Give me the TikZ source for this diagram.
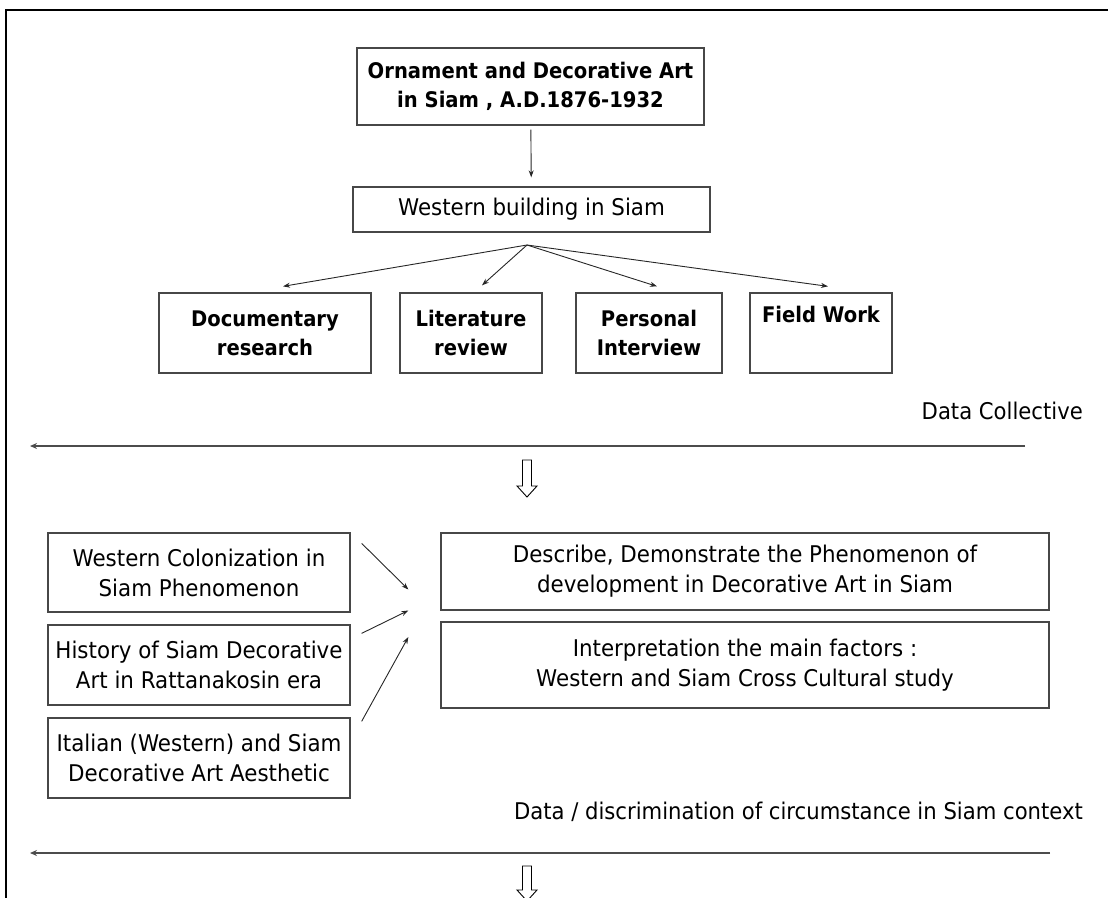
\documentclass[tikz,border=0pt]{standalone}
\usepackage{fontspec}
\setmainfont{DejaVu Sans}[FakeStretch=0.93]
\newfontfamily\headfont{DejaVu Sans}[FakeStretch=0.91]
\newfontfamily\notefont{DejaVu Sans}[FakeStretch=0.92]
\usetikzlibrary{arrows.meta,calc}

\begin{document}
\begin{tikzpicture}[x=1pt,y=-1pt,
  box/.style={draw=black!72, line width=1.3pt, fill=white, align=center,
    inner sep=0pt, font=\fontsize{23}{30}\selectfont},
  boldbox/.style={box, font=\headfont\fontsize{21.5}{29}\selectfont\bfseries},
  link/.style={draw=black!85, line width=0.9pt, -{Stealth[length=7pt,width=5pt]}},
  rule/.style={draw=black!70, line width=2.6pt, -{Stealth[length=7pt,width=6pt]}},
  hollow/.style={draw=black, line width=0.9pt, fill=white},
  note/.style={anchor=east, inner sep=0pt, font=\notefont\fontsize{23}{27}\selectfont}]

\useasboundingbox (0,0) rectangle (1108,897);
\clip (0,0) rectangle (1108,897);

% page frame
\draw[line width=2.6pt] (6,905) -- (6,10) -- (1115,10);

% ---- upper part: sources of data
\node[boldbox, minimum width=347pt, minimum height=77pt] (title) at (530.5,86.5)
  {Ornament and Decorative Art\\in Siam , A.D.1876-1932};
\node[box, minimum width=357pt, minimum height=45pt] (wb) at (531.5,209.5)
  {Western building in Siam};

\node[boldbox, minimum width=212pt, minimum height=80pt] (doc) at (265,333)
  {Documentary\\research};
\node[boldbox, minimum width=142pt, minimum height=80pt] (lit) at (471,333)
  {Literature\\review};
\node[boldbox, minimum width=146pt, minimum height=80pt] (pers) at (649,333)
  {Personal\\Interview};
\node[boldbox, minimum width=142pt, minimum height=80pt] (field) at (821,333)
  {Field Work\\\strut};

\draw[link, shorten <=4pt, shorten >=9pt] (title) -- (wb);
\coordinate (fan) at (527,245);
\draw[link] (fan) -- ($(doc.north)+(18,-6)$);
\draw[link] (fan) -- ($(lit.north)+(11,-7)$);
\draw[link] (fan) -- ($(pers.north)+(8,-6)$);
\draw[link] (fan) -- ($(field.north)+(7,-6)$);

\node[note] (dc) at (1083,411) {Data Collective};
\coordinate (r1a) at (1025,446);
\coordinate (r1b) at (30,446);
\draw[rule] (r1a) -- (r1b);

% hollow down arrow
\draw[hollow] (522.5,460) -- (531.5,460) -- (531.5,486) -- (537,486) -- (527,497)
  -- (517,486) -- (522.5,486) -- cycle;

% ---- lower part: analysis
\node[box, minimum width=302pt, minimum height=79pt] (w1) at (199,572.5)
  {Western Colonization in\\Siam Phenomenon};
\node[box, minimum width=302pt, minimum height=80pt] (w2) at (199,665)
  {History of Siam Decorative\\Art in Rattanakosin era};
\node[box, minimum width=302pt, minimum height=80pt] (w3) at (199,758)
  {Italian (Western) and Siam\\Decorative Art Aesthetic};

\node[box, minimum width=608pt, minimum height=77pt] (desc) at (745,571.5)
  {Describe, Demonstrate the Phenomenon of\\development in Decorative Art in Siam};
\node[box, minimum width=608pt, minimum height=86pt] (interp) at (745,665)
  {Interpretation the main factors :\\Western and Siam Cross Cultural study};

\draw[link] ($(w1.north east)+(11,11)$) -- ($(desc.west)+(-32,18)$);
\draw[link] ($(w2.north east)+(11,9)$) -- ($(desc.west)+(-32,39)$);
\draw[link] ($(w3.north east)+(11,4)$) -- ($(interp.west)+(-32,-28)$);

\node[note] (dd) at (1083,812) {Data / discrimination of circumstance in Siam context};
\coordinate (r2a) at (1050,853);
\coordinate (r2b) at (30,853);
\draw[rule] (r2a) -- (r2b);

\draw[hollow] (522.5,866) -- (531.5,866) -- (531.5,890) -- (537,890) -- (527,901)
  -- (517,890) -- (522.5,890) -- cycle;
\end{tikzpicture}
\end{document}
